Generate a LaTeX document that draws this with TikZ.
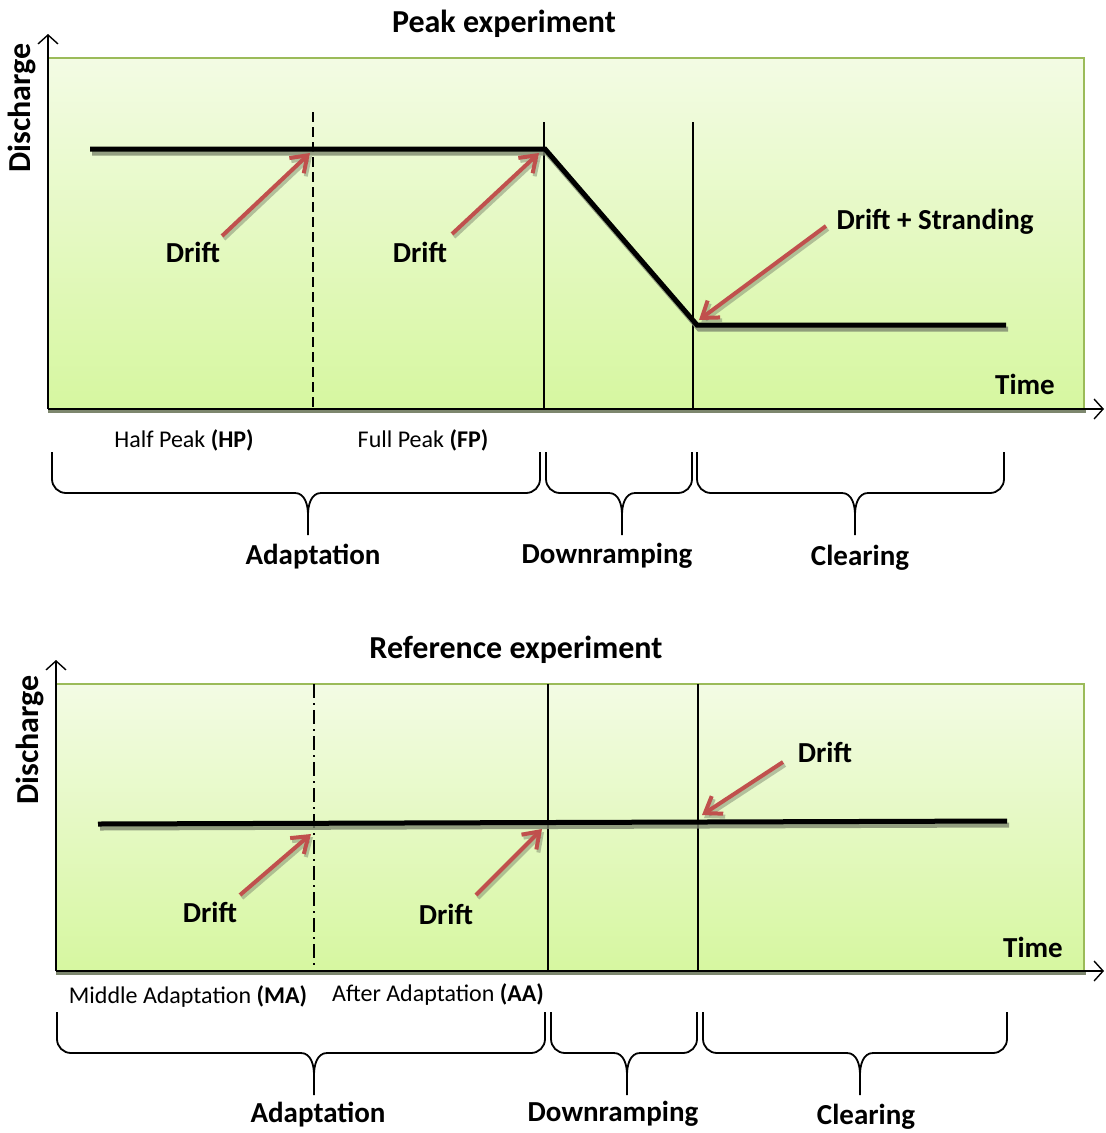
\documentclass[tikz,border=0pt]{standalone}
\usepackage{fontspec}
\setmainfont{Carlito}
\usetikzlibrary{arrows.meta}

\definecolor{boxtop}{RGB}{243,251,228}
\definecolor{boxbottom}{RGB}{214,247,160}
\definecolor{boxedge}{RGB}{155,187,89}
\definecolor{driftred}{RGB}{192,80,77}
\definecolor{dropshadow}{RGB}{125,135,110}

\tikzset{
    axisline/.style={line width=1.4, -{Straight Barb[length=9pt,width=20pt]}},
    flow/.style={line width=5},
    flowshadow/.style={line width=5, dropshadow, opacity=0.8,
      transform canvas={shift={(2pt,-4pt)}}},
    driftarrow/.style={line width=4, driftred, -{Straight Barb[length=15pt,width=21pt]}},
    divider/.style={line width=1.3},
    brace/.style={line width=1.8, line join=round},
    headline/.style={font=\bfseries\fontsize{32}{38}\selectfont, inner sep=0},
    tag/.style={font=\bfseries\fontsize{29}{35}\selectfont, inner sep=0},
    subname/.style={font=\fontsize{24}{29}\selectfont, inner sep=0},
}

% box: left, right, top, bottom
\newcommand{\expbox}[4]{
    \shade[top color=boxtop, bottom color=boxbottom] (#1,#3) rectangle (#2,#4);
    \draw[dropshadow, line width=2.5] (#1,#4+2.5) -- (#2+2,#4+2.5);
    \draw[boxedge, line width=1.5] (#1,#3) -- (#2,#3) -- (#2,#4);
}
% brace: left, right, tip, top
\newcommand{\phase}[4]{
    \draw[brace] (#1,#4) -- (#1,#4+27) to[out=-90,in=180] (#1+14,#4+41)
      -- (#3-13,#4+41) to[out=0,in=90] (#3,#4+63) -- (#3,#4+83);
    \draw[brace] (#2,#4) -- (#2,#4+27) to[out=-90,in=0] (#2-14,#4+41)
      -- (#3+13,#4+41) to[out=180,in=90] (#3,#4+63);
}
% drift arrow with its shadow
\newcommand{\drift}[2]{
    \draw[driftarrow, dropshadow, opacity=0.5,
      transform canvas={shift={(2pt,-3pt)}}] (#1) -- (#2);
    \draw[driftarrow] (#1) -- (#2);
}

\begin{document}
\begin{tikzpicture}[x=1pt, y=-1pt]
  \useasboundingbox (0,0) rectangle (1106,1133);

  % Peak experiment
  \expbox{48}{1084}{58}{409}
  \draw[divider, dash pattern=on 10pt off 5pt] (313,112) -- (313,409);
  \draw[divider] (544,122) -- (544,409);
  \draw[divider] (693,122) -- (693,409);

  \coordinate (o1) at (48,409);
  \coordinate (ytop1) at (48,34);
  \coordinate (xend1) at (1104,409);
  \draw[axisline] (o1) -- (ytop1);
  \draw[axisline] (o1) -- (xend1);

  \coordinate (p0) at (90,149);
  \coordinate (p1) at (545,149);
  \coordinate (p2) at (697,325);
  \coordinate (p3) at (1006,325);
  \draw[flowshadow] (p0) -- (p1) -- (p2) -- (p3);
  \draw[flow] (p0) -- (p1) -- (p2) -- (p3);

  \coordinate (hp) at (310,153);
  \coordinate (fp) at (539,153);
  \coordinate (st) at (699,320);
  \coordinate (hptail) at (222,236);
  \coordinate (fptail) at (452,234);
  \coordinate (sttail) at (826,226);
  \drift{hptail}{hp}
  \drift{fptail}{fp}
  \drift{sttail}{st}

  \node[headline] (peak) at (504,24) {Peak experiment};
  \node[headline, rotate=90] (dis1) at (22,108) {Discharge};
  \node[tag] (drift1) at (193,252) {Drift};
  \node[tag] (drift2) at (420,252) {Drift};
  \node[tag] (strand) at (935,222) {Drift + Stranding};
  \node[tag] (time1) at (1025,384) {Time};
  \node[subname] (halfp) at (184,440) {Half Peak \textbf{(HP)}};
  \node[subname] (fullp) at (423,440) {Full Peak \textbf{(FP)}};

  \phase{52}{540}{308}{452}
  \phase{546}{692}{622}{452}
  \phase{697}{1004}{855}{452}
  \node[tag] (adapt1) at (313,557) {Adaptation};
  \node[tag] (ramp1) at (607,556) {Downramping};
  \node[tag] (clear1) at (860,558) {Clearing};

  % Reference experiment
  \expbox{56}{1084}{684}{971}
  \draw[divider, dash pattern=on 14pt off 5pt on 2pt off 5pt] (314,684) -- (314,971);
  \draw[divider] (548,684) -- (548,971);
  \draw[divider] (698,684) -- (698,971);

  \coordinate (o2) at (56,971);
  \coordinate (ytop2) at (56,660);
  \coordinate (xend2) at (1104,971);
  \draw[axisline] (o2) -- (ytop2);
  \draw[axisline] (o2) -- (xend2);

  \coordinate (q0) at (98,824);
  \coordinate (q1) at (1007,821);
  \draw[flowshadow] (q0) -- (q1);
  \draw[flow] (q0) -- (q1);

  \coordinate (ma) at (311,834);
  \coordinate (aa) at (542,829);
  \coordinate (cl) at (702,815);
  \coordinate (matail) at (240,895);
  \coordinate (aatail) at (476,895);
  \coordinate (cltail) at (783,762);
  \drift{matail}{ma}
  \drift{aatail}{aa}
  \drift{cltail}{cl}

  \node[headline] (ref) at (516,650) {Reference experiment};
  \node[headline, rotate=90] (dis2) at (30,740) {Discharge};
  \node[tag] (drift3) at (210,912) {Drift};
  \node[tag] (drift4) at (446,914) {Drift};
  \node[tag] (drift5) at (825,752) {Drift};
  \node[tag] (time2) at (1033,947) {Time};
  \node[subname] (midad) at (188,997) {Middle Adaptation \textbf{(MA)}};
  \node[subname] (aftad) at (438,995) {After Adaptation \textbf{(AA)}};

  \phase{57}{545}{314}{1012}
  \phase{551}{697}{627}{1012}
  \phase{703}{1007}{860}{1012}
  \node[tag] (adapt2) at (318,1115) {Adaptation};
  \node[tag] (ramp2) at (613,1114) {Downramping};
  \node[tag] (clear2) at (866,1117) {Clearing};
\end{tikzpicture}
\end{document}
